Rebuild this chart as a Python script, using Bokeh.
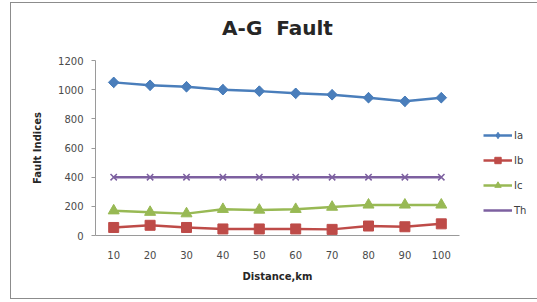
from bokeh.plotting import figure
from bokeh.models import Legend, LegendItem, Range1d, FixedTicker, Title
from bokeh.embed import file_html
from bokeh.resources import INLINE

distance = [10, 20, 30, 40, 50, 60, 70, 80, 90, 100]
ia = [1050, 1030, 1020, 1000, 990, 975, 965, 945, 920, 945]
ib = [55, 70, 55, 45, 45, 45, 42, 65, 60, 80]
ic = [170, 160, 150, 180, 175, 180, 195, 210, 210, 210]
th = [400, 400, 400, 400, 400, 400, 400, 400, 400, 400]
y_ticks = [0, 200, 400, 600, 800, 1000, 1200]

FONT = "DejaVu Sans"
p = figure(frame_width=364, frame_height=175, output_backend="svg", toolbar_location=None,
           x_range=Range1d(5, 105), y_range=Range1d(0, 1200),
           min_border_left=84, min_border_right=76, min_border_top=57,
           min_border_bottom=63)
p.styles = {"border": "1px solid #8c8c8c", "margin-left": "10px", "margin-top": "2px"}
p.outline_line_color = None
p.xgrid.visible = False
p.ygrid.visible = False

# spacer between the title and the plot area
p.add_layout(Title(text="\u00a0", text_font_size="2px", standoff=12), "above")

p.title.text = "A-G\u00a0 Fault"
p.title.align = "center"
p.title.text_font = FONT
p.title.text_font_size = "20px"
p.title.text_font_style = "bold"
p.title.text_color = "#262626"
p.title.standoff = 10

p.xaxis.ticker = FixedTicker(ticks=distance)
p.yaxis.ticker = FixedTicker(ticks=y_ticks)
for ax in (p.xaxis[0], p.yaxis[0]):
    ax.axis_line_color = "#9a9a9a"
    ax.major_tick_line_color = "#9a9a9a"
    ax.minor_tick_line_color = None
    ax.major_label_text_font = FONT
    ax.major_label_text_font_size = "10px"
    ax.major_label_text_color = "#4a4a4a"
    ax.axis_label_text_font = FONT
    ax.axis_label_text_font_size = "10px"
    ax.axis_label_text_font_style = "bold"
    ax.axis_label_text_color = "#262626"
p.xaxis.major_tick_out = 0
p.xaxis.major_tick_in = 0
p.xaxis.major_label_standoff = 15
p.xaxis.axis_label = "Distance,km"
p.xaxis.axis_label_standoff = 9
p.yaxis.major_tick_out = 4
p.yaxis.major_tick_in = 0
p.yaxis.major_label_standoff = 8
p.yaxis.axis_label = "Fault Indices"
p.yaxis.axis_label_standoff = 12

series = [
    ("Ia", ia, "#4a7ebb", "square", 7.5, 0.785398, "diamond", 10),
    ("Ib", ib, "#be4b48", "square", 10, 0, None, 0),
    ("Ic", ic, "#98b954", "triangle", 11, 0, None, 0),
    ("Th", th, "#7d60a0", "x", 9, 0, None, 0),
]
items = []
for name, vals, col, mk, sz, ang, lmk, lsz in series:
    r1 = p.line(distance, vals, line_color=col, line_width=2.5)
    r2 = p.scatter(distance, vals, marker=mk, size=sz, angle=ang, fill_color=col,
                   line_color=col, line_width=1.5 if mk == "x" else 1)
    rends = [r1]
    if lmk:
        rends.append(p.scatter(distance, vals, marker=lmk, size=lsz,
                               fill_color=col, line_color=col))
    elif mk != "x":
        rends.append(r2)
    items.append(LegendItem(label=name, renderers=rends))

legend = Legend(items=items, location=(24, 17), padding=0, margin=0,
                glyph_width=29, glyph_height=16, label_height=16, spacing=9,
                label_standoff=2, label_text_font=FONT, label_text_font_size="10px",
                label_text_color="#404040", border_line_color=None,
                background_fill_alpha=0)
p.add_layout(legend, "right")

open("out.html", "w").write(file_html(p, INLINE))
